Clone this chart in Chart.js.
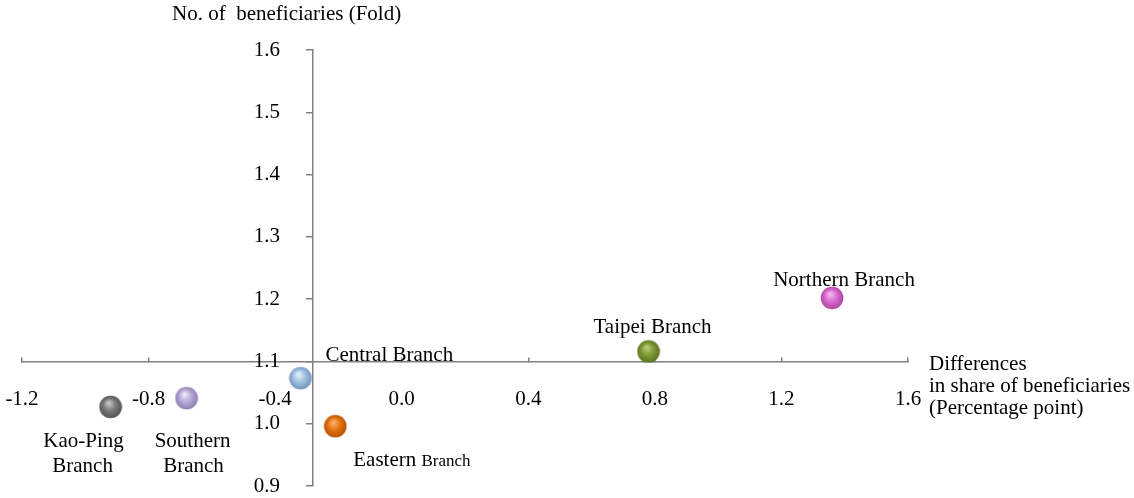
<!DOCTYPE html>
<html>
<head>
<meta charset="utf-8">
<script src="https://cdn.jsdelivr.net/npm/chart.js@4.4.1/dist/chart.umd.min.js"></script>
<style>
  html, body { margin: 0; padding: 0; background: #ffffff; }
  #wrap { width: 1134px; height: 498px; }
</style>
</head>
<body>
<div id="wrap"><canvas id="branchChart"></canvas></div>
<script>
const branches = ['Northern Branch', 'Taipei Branch', 'Central Branch', 'Eastern Branch', 'Southern Branch', 'Kao-Ping Branch'];
const shareDiff = [1.36, 0.78, -0.32, -0.21, -0.68, -0.92];
const foldValues = [1.202, 1.116, 1.073, 0.996, 1.041, 1.027];
const ballColors = [
  ['#f6b4ee', '#dc6cd0', '#a8409c'],
  ['#b8cc78', '#7f9c38', '#566e1c'],
  ['#e2eef9', '#a3c3e3', '#6e90b8'],
  ['#fbb070', '#e87412', '#b04e00'],
  ['#ece6f6', '#b9abd9', '#8a7aac'],
  ['#c4c4c4', '#7c7c7c', '#4e4e4e'],
];

const FONT = '"Liberation Serif", "Times New Roman", serif';
const AXIS = '#808080';

function makeBall(c) {
  const size = 24;
  const cv = document.createElement('canvas');
  cv.width = size;
  cv.height = size;
  const g = cv.getContext('2d');
  const grad = g.createRadialGradient(10, 8, 1, 12, 12, 12);
  grad.addColorStop(0, c[0]);
  grad.addColorStop(0.45, c[1]);
  grad.addColorStop(1, c[2]);
  g.fillStyle = grad;
  g.beginPath();
  g.arc(12, 12, 11.3, 0, Math.PI * 2);
  g.fill();
  return cv;
}

// label text drawn next to each ball, offsets in px from the point
const labelPlugin = {
  id: 'branchLabels',
  afterDatasetsDraw(chart) {
    const ctx = chart.ctx;
    const xs = chart.scales.x, ys = chart.scales.y;
    const px = i => xs.getPixelForValue(shareDiff[i]);
    const py = i => ys.getPixelForValue(foldValues[i]);
    ctx.save();
    ctx.fillStyle = '#000';
    ctx.textBaseline = 'middle';
    ctx.font = '21px ' + FONT;
    ctx.textAlign = 'center';
    ctx.fillText('Northern Branch', px(0) + 12, py(0) - 17);
    ctx.fillText('Taipei Branch', px(1) + 4, py(1) - 24);
    ctx.textAlign = 'left';
    ctx.fillText('Central Branch', px(2) + 25, py(2) - 23);
    ctx.fillText('Eastern', px(3) + 18, py(3) + 34);
    const ew = ctx.measureText('Eastern ').width;
    ctx.font = '17px ' + FONT;
    ctx.fillText('Branch', px(3) + 18 + ew, py(3) + 35);
    ctx.font = '21px ' + FONT;
    ctx.textAlign = 'center';
    ctx.fillText('Southern', px(4) + 6, py(4) + 43);
    ctx.fillText('Branch', px(4) + 7, py(4) + 68);
    ctx.fillText('Kao-Ping', px(5) - 27, py(5) + 35);
    ctx.fillText('Branch', px(5) - 28, py(5) + 60);

    // y tick labels, to the left of the crossing axis
    ctx.textAlign = 'right';
    const axX = xs.getPixelForValue(-0.28);
    ys.ticks.forEach(t => {
      ctx.fillText(t.value.toFixed(1), axX - 33, ys.getPixelForValue(t.value));
    });

    // axis titles
    ctx.textAlign = 'left';
    ctx.fillText('No. of  beneficiaries (Fold)', 172, 14);
    const ax = xs.right + 21, ay = ys.getPixelForValue(1.1);
    ctx.fillText('Differences', ax, ay + 3);
    ctx.fillText('in share of beneficiaries', ax, ay + 25);
    ctx.fillText('(Percentage point)', ax, ay + 47);
    ctx.restore();
  }
};

new Chart(document.getElementById('branchChart'), {
  type: 'scatter',
  data: {
    datasets: [{
      label: 'Branches',
      data: shareDiff.map((x, i) => ({ x, y: foldValues[i] })),
      pointStyle: ballColors.map(makeBall),
      pointRadius: 11,
      pointHoverRadius: 11,
    }],
  },
  options: {
    responsive: true,
    maintainAspectRatio: false,
    animation: false,
    layout: { padding: { left: 22, right: 226, top: 50, bottom: 12 } },
    plugins: {
      legend: { display: false },
      tooltip: { enabled: false },
    },
    scales: {
      x: {
        type: 'linear',
        min: -1.2,
        max: 1.6,
        position: { y: 1.1 },
        afterFit: s => { s.height = 0; s.paddingLeft = 0; s.paddingRight = 0; },
        border: { display: true, color: AXIS, width: 1.5 },
        grid: { drawOnChartArea: false, drawTicks: true, tickLength: -5, color: AXIS, lineWidth: 1.5 },
        ticks: {
          stepSize: 0.4,
          padding: 30,
          color: '#000',
          font: { family: FONT, size: 21 },
          maxRotation: 0,
          callback: v => v.toFixed(1),
        },
      },
      y: {
        type: 'linear',
        min: 0.9,
        max: 1.6,
        position: { x: -0.28 },
        afterFit: s => { s.width = 0; s.paddingTop = 0; s.paddingBottom = 0; },
        border: { display: true, color: AXIS, width: 1.5 },
        grid: { drawOnChartArea: false, drawTicks: true, tickLength: 6, color: AXIS, lineWidth: 1.5 },
        ticks: { stepSize: 0.1, display: false },
      },
    },
  },
  plugins: [labelPlugin],
});
</script>
</body>
</html>
